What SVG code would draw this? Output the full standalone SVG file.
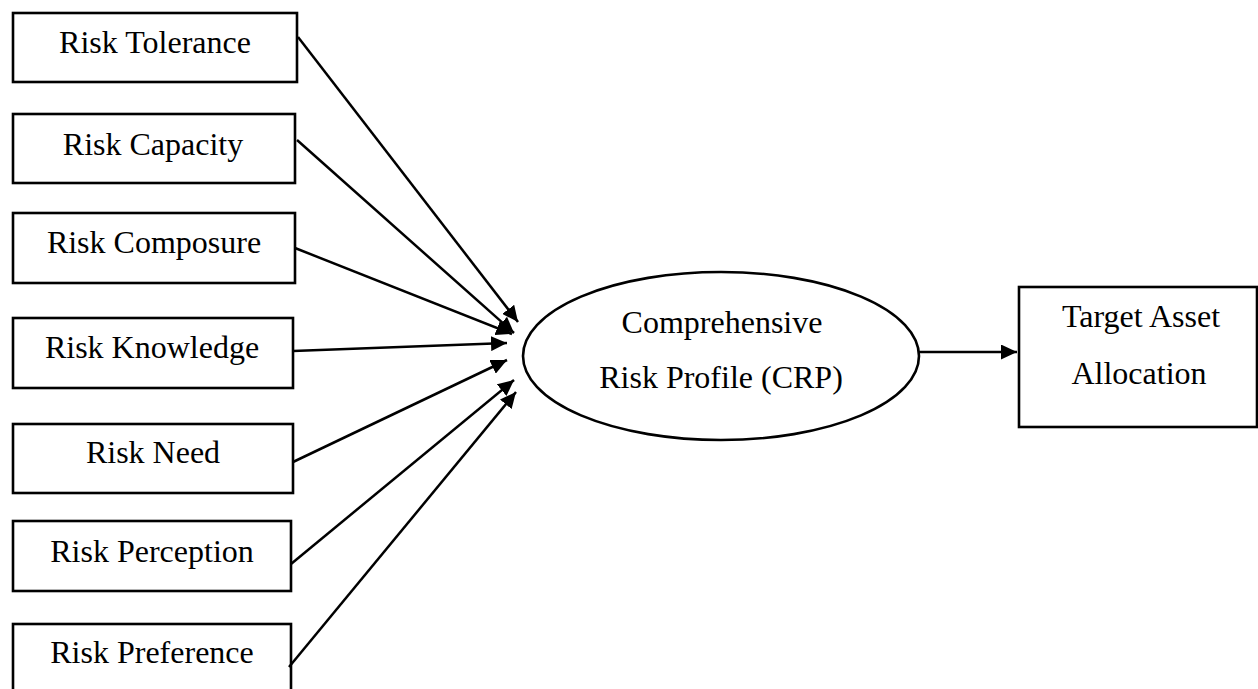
<svg xmlns="http://www.w3.org/2000/svg" width="1258" height="689" viewBox="0 0 1258 689">
<style>
.box{fill:#fff;stroke:#000;stroke-width:2.6}
.lbl{font-family:"Liberation Serif","Times New Roman",serif;font-size:32px;fill:#000;text-anchor:middle}
.conn{stroke:#000;stroke-width:2.5;fill:none;marker-end:url(#arr)}
</style>
<defs>
<marker id="arr" markerUnits="userSpaceOnUse" markerWidth="17" markerHeight="15" refX="16" refY="7.5" orient="auto">
<path d="M0,0 L16,7.5 L0,15 z" fill="#000"/>
</marker>
</defs>
<rect width="1258" height="689" fill="#fff"/>
<g id="n-tolerance"><rect class="box" x="13" y="13" width="284" height="69"/><text class="lbl" x="155" y="53">Risk Tolerance</text></g>
<g id="n-capacity"><rect class="box" x="13" y="114" width="282" height="69"/><text class="lbl" x="153" y="155">Risk Capacity</text></g>
<g id="n-composure"><rect class="box" x="13" y="213" width="282" height="70"/><text class="lbl" x="154" y="253">Risk Composure</text></g>
<g id="n-knowledge"><rect class="box" x="13" y="318" width="280" height="70"/><text class="lbl" x="152" y="358">Risk Knowledge</text></g>
<g id="n-need"><rect class="box" x="13" y="424" width="280" height="69"/><text class="lbl" x="153" y="463">Risk Need</text></g>
<g id="n-perception"><rect class="box" x="13" y="521" width="278" height="70"/><text class="lbl" x="152" y="562">Risk Perception</text></g>
<g id="n-preference"><rect class="box" x="13" y="624" width="278" height="70"/><text class="lbl" x="152" y="663">Risk Preference</text></g>
<g id="n-crp"><ellipse class="box" cx="721" cy="356" rx="198" ry="84"/><text class="lbl" x="722" y="333">Comprehensive</text><text class="lbl" x="721" y="388">Risk Profile (CRP)</text></g>
<g id="n-target"><rect class="box" x="1019" y="287" width="238" height="140"/><text class="lbl" x="1141" y="327">Target Asset</text><text class="lbl" x="1139" y="384">Allocation</text></g>
<g id="connectors">
<line class="conn" x1="298" y1="37" x2="518" y2="322"/>
<line class="conn" x1="297" y1="140" x2="514" y2="333"/>
<line class="conn" x1="295" y1="248" x2="512" y2="334"/>
<line class="conn" x1="293" y1="351" x2="507" y2="343"/>
<line class="conn" x1="293" y1="462" x2="507" y2="360"/>
<line class="conn" x1="291" y1="564" x2="514" y2="380"/>
<line class="conn" x1="289" y1="667" x2="516" y2="392"/>
<line class="conn" x1="919" y1="352" x2="1017" y2="352"/>
</g>
</svg>
